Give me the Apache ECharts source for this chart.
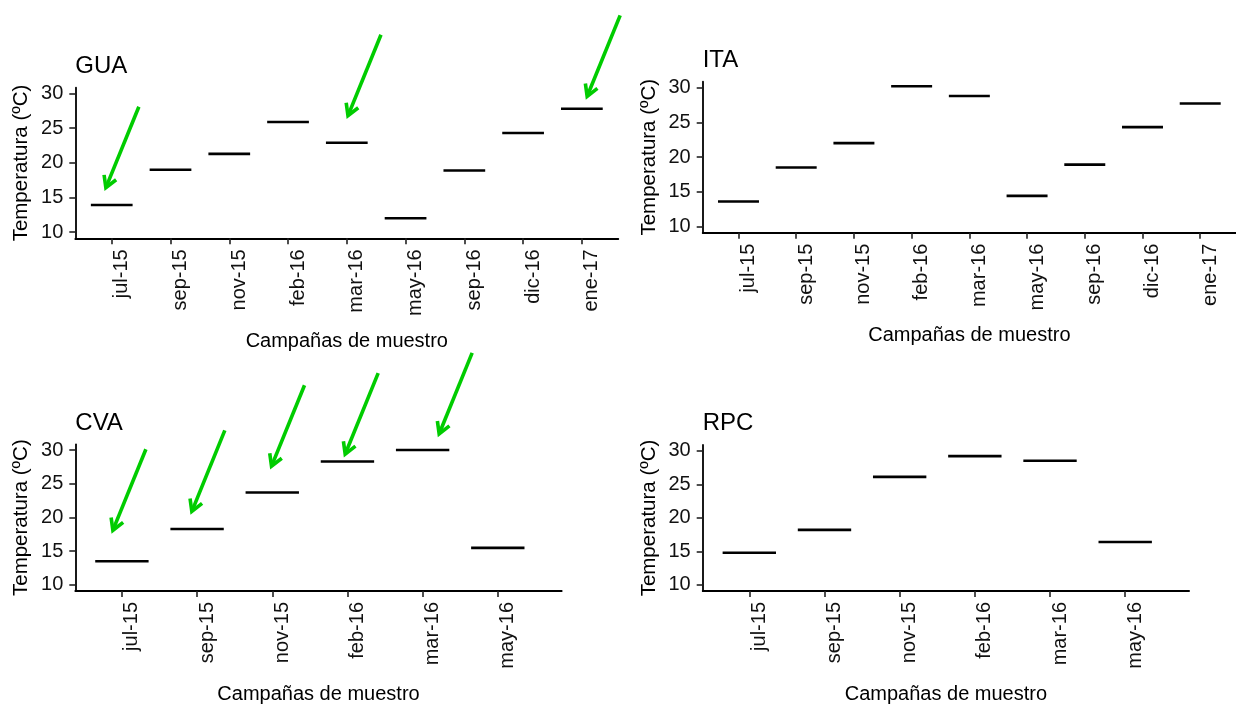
<!DOCTYPE html>
<html>
<head>
<meta charset="utf-8">
<script src="https://cdn.jsdelivr.net/npm/echarts@6/dist/echarts.min.js"></script>
<style>
  html, body { margin: 0; padding: 0; background: #fff; }
  #chart { width: 1236px; height: 705px; }
</style>
</head>
<body>
<div id="chart"></div>
<script>
// ---- data ----
const topCategories = ['jul-15', 'sep-15', 'nov-15', 'feb-16', 'mar-16', 'may-16', 'sep-16', 'dic-16', 'ene-17'];
const bottomCategories = ['jul-15', 'sep-15', 'nov-15', 'feb-16', 'mar-16', 'may-16'];
const guaValues = [13.9, 19.0, 21.3, 25.9, 22.9, 12.0, 18.9, 24.3, 27.8];
const itaValues = [13.6, 18.5, 22.0, 30.2, 28.8, 14.4, 18.9, 24.3, 27.7];
const cvaValues = [13.5, 18.3, 23.7, 28.3, 30.0, 15.5];
const rpcValues = [14.8, 18.2, 26.1, 29.2, 28.5, 16.4];
const yTickValues = [10, 15, 20, 25, 30];
const panelTitles = ['GUA', 'ITA', 'CVA', 'RPC'];
const xAxisTitle = 'Campañas de muestro';
const yAxisTitle = 'Temperatura (ºC)';
// arrow annotations: tip positions in data units (category index, temperature)
const guaArrowTips = [[-0.1, 16.4], [4.02, 26.8], [8.09, 29.6]];
const cvaArrowTips = [[-0.12, 18.1], [0.93, 20.9], [1.99, 27.6], [2.97, 29.4], [4.22, 32.4]];

// ---- layout / style ----
const FONT = "'Liberation Sans', Arial, Helvetica, sans-serif";
const TXT = '#111';
const GREEN = '#00cc00';

const grids = [
  { left: 75.3, top: 87.7, width: 543, height: 150.6 },
  { left: 702.7, top: 81.7, width: 543, height: 151 },
  { left: 75.3, top: 444.3, width: 486.4, height: 151.4 },
  { left: 702.7, top: 445, width: 486.4, height: 151 }
];
const titleTops = [54, 48, 411.3, 411.3];
const cats = [topCategories, topCategories, bottomCategories, bottomCategories];
const vals = [guaValues, itaValues, cvaValues, rpcValues];
const xMax = [8.62, 8.62, 5.85, 5.85];

const xAxes = cats.map((c, k) => ({
  type: 'value',
  gridIndex: k,
  position: 'bottom',
  min: -0.62,
  max: xMax[k],
  splitLine: { show: false },
  axisLine: { show: true, onZero: false, lineStyle: { color: '#000', width: 1.8 } },
  axisTick: { show: true, length: 6, lineStyle: { color: '#222', width: 1.6 }, customValues: c.map((_, i) => i) },
  axisLabel: {
    show: true,
    customValues: c.map((_, i) => i),
    formatter: v => c[Math.round(v)],
    rotate: 90,
    margin: 11,
    verticalAlign: 'top',
    fontSize: 20,
    fontFamily: FONT,
    color: TXT
  },
  name: xAxisTitle,
  nameLocation: 'middle',
  nameGap: 93,
  nameTextStyle: { fontSize: 20, fontFamily: FONT, color: '#000' }
}));

const yAxes = cats.map((c, k) => ({
  type: 'value',
  gridIndex: k,
  position: 'left',
  min: 9.1,
  max: 30.85,
  splitLine: { show: false },
  axisLine: { show: true, onZero: false, lineStyle: { color: '#000', width: 1.8 } },
  axisTick: { show: true, length: 6, lineStyle: { color: '#222', width: 1.6 }, customValues: yTickValues },
  axisLabel: {
    show: true,
    customValues: yTickValues,
    margin: 12,
    fontSize: 20,
    fontFamily: FONT,
    color: TXT
  },
  name: yAxisTitle,
  nameLocation: 'middle',
  nameGap: 43,
  nameTextStyle: { fontSize: 20.5, fontFamily: FONT, color: '#000' }
}));

const HALF = 0.355;
function segmentRender(params, api) {
  const x = api.value(0), y = api.value(1);
  const p1 = api.coord([x - HALF, y]);
  const p2 = api.coord([x + HALF, y]);
  return {
    type: 'line',
    shape: { x1: p1[0], y1: p1[1], x2: p2[0], y2: p2[1] },
    style: { stroke: '#000', lineWidth: 2.6 }
  };
}

const ARROW_DX = 33, ARROW_DY = -81, HEAD = 13, HEAD_ANG = 30 * Math.PI / 180;
function arrowRender(params, api) {
  const tip = api.coord([api.value(0), api.value(1)]);
  const tail = [tip[0] + ARROW_DX, tip[1] + ARROW_DY];
  const len = Math.hypot(ARROW_DX, ARROW_DY);
  const bx = ARROW_DX / len, by = ARROW_DY / len; // direction from tip back to tail
  const rot = a => [bx * Math.cos(a) - by * Math.sin(a), bx * Math.sin(a) + by * Math.cos(a)];
  const r1 = rot(HEAD_ANG), r2 = rot(-HEAD_ANG);
  const b1 = [tip[0] + r1[0] * HEAD, tip[1] + r1[1] * HEAD];
  const b2 = [tip[0] + r2[0] * HEAD, tip[1] + r2[1] * HEAD];
  const shaftEnd = [tip[0] + bx * 2, tip[1] + by * 2];
  return {
    type: 'group',
    children: [
      { type: 'line', shape: { x1: tail[0], y1: tail[1], x2: shaftEnd[0], y2: shaftEnd[1] },
        style: { stroke: GREEN, lineWidth: 3.6 } },
      { type: 'polyline', shape: { points: [b1, tip, b2] },
        style: { stroke: GREEN, lineWidth: 3.6, fill: null, lineJoin: 'miter' } }
    ]
  };
}

const series = vals.map((v, k) => ({
  type: 'custom',
  xAxisIndex: k,
  yAxisIndex: k,
  renderItem: segmentRender,
  encode: { x: 0, y: 1 },
  data: v.map((y, i) => [i, y]),
  clip: false,
  silent: true,
  z: 3
}));
series.push({
  type: 'custom', xAxisIndex: 0, yAxisIndex: 0, renderItem: arrowRender,
  encode: { x: 0, y: 1 }, data: guaArrowTips, clip: false, silent: true, z: 5
});
series.push({
  type: 'custom', xAxisIndex: 2, yAxisIndex: 2, renderItem: arrowRender,
  encode: { x: 0, y: 1 }, data: cvaArrowTips, clip: false, silent: true, z: 5
});

const option = {
  animation: false,
  backgroundColor: '#fff',
  title: panelTitles.map((t, k) => ({
    text: t,
    left: grids[k].left,
    top: titleTops[k],
    padding: 0,
    textStyle: { fontSize: 24, fontWeight: 'normal', fontFamily: FONT, color: '#000' }
  })),
  grid: grids,
  xAxis: xAxes,
  yAxis: yAxes,
  series: series
};

const chart = echarts.init(document.getElementById('chart'), null, { renderer: 'canvas' });
chart.setOption(option);
</script>
</body>
</html>
